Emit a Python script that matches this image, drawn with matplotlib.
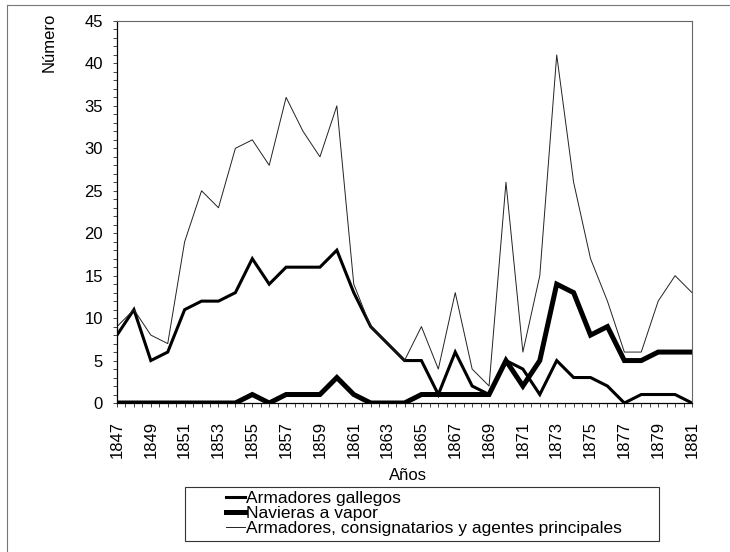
import matplotlib.pyplot as plt
from matplotlib.lines import Line2D
from matplotlib.patches import Rectangle
from matplotlib.ticker import MultipleLocator, FixedLocator
import numpy as np

plt.rcParams['font.family'] = ['Liberation Sans', 'DejaVu Sans']

years = np.arange(1847, 1882)

gallegos = [8, 11, 5, 6, 11, 12, 12, 13, 17, 14, 16, 16, 16, 18, 13, 9, 7, 5,
            5, 1, 6, 2, 1, 5, 4, 1, 5, 3, 3, 2, 0, 1, 1, 1, 0]
vapor = [0, 0, 0, 0, 0, 0, 0, 0, 1, 0, 1, 1, 1, 3, 1, 0, 0, 0,
         1, 1, 1, 1, 1, 5, 2, 5, 14, 13, 8, 9, 5, 5, 6, 6, 6]
consignatarios = [9, 11, 8, 7, 19, 25, 23, 30, 31, 28, 36, 32, 29, 35, 14, 9, 7, 5,
                  9, 4, 13, 4, 2, 26, 6, 15, 41, 26, 17, 12, 6, 6, 12, 15, 13]

labels = ["Armadores gallegos", "Navieras a vapor",
          "Armadores, consignatarios y agentes principales"]

W, H = 730, 552
fig = plt.figure(figsize=(7.3, 5.52), dpi=100)
ax = fig.add_axes([117 / W, 1 - 403 / H, (692 - 117) / W, (403 - 21) / H])

l1, = ax.plot(years, gallegos, color='black', lw=2.2, solid_joinstyle='miter')
l2, = ax.plot(years, vapor, color='black', lw=3.6, solid_joinstyle='miter')
l3, = ax.plot(years, consignatarios, color='#222222', lw=0.7)

ax.set_xlim(1847, 1881)
ax.set_ylim(0, 45)
ax.xaxis.set_major_locator(FixedLocator(years[::2]))
ax.xaxis.set_minor_locator(MultipleLocator(0.5))
ax.yaxis.set_major_locator(MultipleLocator(5))
ax.yaxis.set_minor_locator(MultipleLocator(1))
ax.tick_params(axis='both', which='both', direction='out', length=3, width=0.7,
               labelsize=12, color='#444444')
ax.tick_params(axis='x', which='major', rotation=90, pad=10)
ax.tick_params(axis='y', which='major', pad=7)

for s in ['left', 'bottom']:
    ax.spines[s].set_linewidth(0.9)
for s in ['top', 'right']:
    ax.spines[s].set_linewidth(0.8)
    ax.spines[s].set_color('#666666')

fig.text(49 / W, 1 - 42 / H, "Número", rotation=90, ha='center', va='center', fontsize=12)
fig.text(408 / W, 1 - 476 / H, "Años", ha='center', va='center', fontsize=12)

# legend box and entries
fig.add_artist(Rectangle((185 / W, 1 - 541 / H), (659 - 185) / W, (541 - 487) / H,
                         transform=fig.transFigure, fill=False, lw=0.8, ec='#333333'))
fig.legend([l1, l2, l3], labels, loc='upper left',
           bbox_to_anchor=(226 / W, 1 - 491 / H), frameon=False, fontsize=12.5,
           borderpad=0, borderaxespad=0, handlelength=1.1, handletextpad=0.05,
           labelspacing=0.0)

# outer frame (left and top edges)
fig.add_artist(Line2D([7 / W, 7 / W], [0, 1 - 5 / H], color='#777777', lw=0.8))
fig.add_artist(Line2D([7 / W, 1], [1 - 5 / H, 1 - 5 / H], color='#777777', lw=0.8))

fig.savefig('out.png', dpi=100)
